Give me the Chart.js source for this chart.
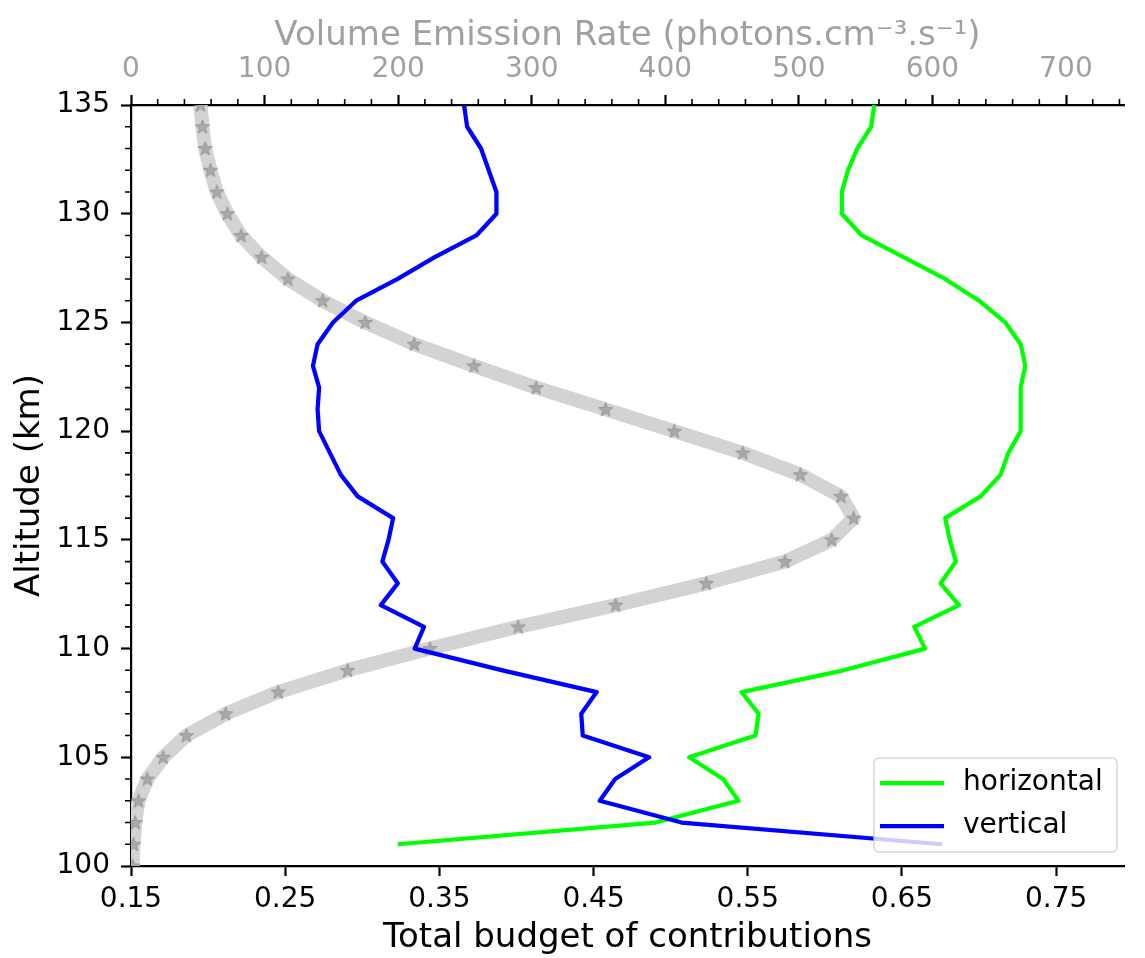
<!DOCTYPE html>
<html>
<head>
<meta charset="utf-8">
<script src="https://cdn.jsdelivr.net/npm/chart.js@4.4.0/dist/chart.umd.min.js"></script>
<style>
  html, body { margin: 0; padding: 0; background: #fff; }
  canvas { display: block; }
</style>
</head>
<body>
<canvas id="mychart" width="1145" height="958"></canvas>
<script>
// altitude (km) for the budget curves
const altitudes = [101, 102, 103, 104, 105, 106, 107, 108, 109, 110,
  111, 112, 113, 114, 115, 116, 117, 118, 119, 120,
  121, 122, 123, 124, 125, 126, 127, 128, 129, 130,
  131, 132, 133, 134, 135];
const horizontal = [0.323, 0.490, 0.544, 0.534, 0.512, 0.555, 0.557, 0.546, 0.612, 0.665,
  0.658, 0.687, 0.675, 0.685, 0.681, 0.678, 0.701, 0.714, 0.719, 0.727,
  0.727, 0.727, 0.730, 0.727, 0.717, 0.700, 0.678, 0.651, 0.624, 0.611,
  0.611, 0.615, 0.621, 0.630, 0.632];
const vertical = [0.676, 0.507, 0.454, 0.464, 0.486, 0.443, 0.442, 0.452, 0.391, 0.334,
  0.340, 0.312, 0.323, 0.313, 0.317, 0.320, 0.297, 0.286, 0.279, 0.272,
  0.271, 0.272, 0.268, 0.271, 0.281, 0.296, 0.323, 0.347, 0.374, 0.387,
  0.387, 0.382, 0.377, 0.368, 0.366];

// volume emission rate profile
const verAltitudes = [100, 101, 102, 103, 104, 105, 106, 107, 108, 109, 110,
  111, 112, 113, 114, 115, 116, 117, 118, 119, 120,
  121, 122, 123, 124, 125, 126, 127, 128, 129, 130,
  131, 132, 133, 134, 135];
const verValues = [1.2, 1.9, 3.2, 5.6, 12.2, 24.1, 41.5, 70.9, 110.1, 162.1, 223.8,
  289.8, 362.9, 430.7, 489.6, 524.6, 541.0, 531.5, 501.1, 458.0, 406.7,
  355.3, 303.3, 256.8, 212.0, 175.3, 143.5, 117.4, 97.8, 82.4, 72.1,
  64.3, 59.5, 55.5, 53.5, 52.0];

// tick labels
const budgetTicks = [0.15, 0.25, 0.35, 0.45, 0.55, 0.65, 0.75];
const verTicks = [0, 100, 200, 300, 400, 500, 600, 700];
const altTicks = [100, 105, 110, 115, 120, 125, 130, 135];

const FONT = 'DejaVu Sans';
const GREY_TEXT = '#a0a0a0';

// star marker
const star = document.createElement('canvas');
star.width = 17;
star.height = 17;
(function () {
  const c = star.getContext('2d');
  c.beginPath();
  for (let i = 0; i < 10; i++) {
    const r = i % 2 === 0 ? 7.5 : 3.1;
    const a = -Math.PI / 2 + i * Math.PI / 5;
    const px = 8.5 + r * Math.cos(a), py = 9 + r * Math.sin(a);
    if (i === 0) c.moveTo(px, py); else c.lineTo(px, py);
  }
  c.closePath();
  c.fillStyle = 'rgba(128,128,128,0.5)';
  c.fill();
  c.strokeStyle = 'rgba(128,128,128,0.6)';
  c.lineWidth = 1;
  c.stroke();
})();

// minor ticks (left and top axes)
const minorTicks = {
  id: 'minorTicks',
  afterDraw(chart) {
    const ctx = chart.ctx;
    const y = chart.scales.y, x2 = chart.scales.x2;
    ctx.save();
    ctx.strokeStyle = '#000';
    ctx.lineWidth = 1.6;
    ctx.beginPath();
    for (let v = y.min; v <= y.max; v++) {
      if (v % 5 === 0) continue;
      const py = y.getPixelForValue(v);
      ctx.moveTo(y.right - 6, py);
      ctx.lineTo(y.right, py);
    }
    for (let v = 20; v <= x2.max; v += 20) {
      if (v % 100 === 0) continue;
      const px = x2.getPixelForValue(v);
      ctx.moveTo(px, x2.bottom - 6);
      ctx.lineTo(px, x2.bottom);
    }
    ctx.stroke();
    ctx.restore();
  }
};

// legend box inside the plot (lower right)
const boxLegend = {
  id: 'boxLegend',
  afterDraw(chart) {
    const {ctx, chartArea} = chart;
    const w = 243, h = 94, r = 5;
    const left = chartArea.right - 7 - w;
    const top = chartArea.bottom - 14 - h;
    ctx.save();
    ctx.beginPath();
    ctx.moveTo(left + r, top);
    ctx.arcTo(left + w, top, left + w, top + h, r);
    ctx.arcTo(left + w, top + h, left, top + h, r);
    ctx.arcTo(left, top + h, left, top, r);
    ctx.arcTo(left, top, left + w, top, r);
    ctx.closePath();
    ctx.fillStyle = 'rgba(255,255,255,0.8)';
    ctx.fill();
    ctx.strokeStyle = 'rgba(204,204,204,0.8)';
    ctx.lineWidth = 1.5;
    ctx.stroke();

    const items = chart.data.datasets.filter(d => d.inLegend).reverse();
    items.forEach((d, i) => {
      const yy = top + 25 + i * 43;
      ctx.beginPath();
      ctx.moveTo(left + 6, yy);
      ctx.lineTo(left + 70, yy);
      ctx.strokeStyle = d.borderColor;
      ctx.lineWidth = d.borderWidth;
      ctx.stroke();
      ctx.fillStyle = '#000';
      ctx.font = '28px "' + FONT + '"';
      ctx.textBaseline = 'middle';
      ctx.textAlign = 'left';
      ctx.fillText(d.label, left + 89, yy);
    });
    ctx.restore();
  }
};

let ctx = document.getElementById('mychart');
let myChart = new Chart(ctx, {
  type: 'scatter',
  data: {
    datasets: [{
      label: 'vertical',
      inLegend: true,
      data: altitudes.map((a, i) => ({x: vertical[i], y: a})),
      borderColor: '#0000ff',
      borderWidth: 4.25,
      borderJoinStyle: 'round',
      pointRadius: 0,
      showLine: true,
      xAxisID: 'x',
      yAxisID: 'y',
    }, {
      label: 'horizontal',
      inLegend: true,
      data: altitudes.map((a, i) => ({x: horizontal[i], y: a})),
      borderColor: '#00ff00',
      borderWidth: 4.25,
      borderJoinStyle: 'round',
      pointRadius: 0,
      showLine: true,
      xAxisID: 'x',
      yAxisID: 'y',
    }, {
      label: 'VER',
      data: verAltitudes.map((a, i) => ({x: verValues[i], y: a})),
      borderColor: '#d3d3d3',
      borderWidth: 14,
      borderJoinStyle: 'round',
      pointStyle: star,
      pointRadius: 7,
      showLine: true,
      xAxisID: 'x2',
      yAxisID: 'y',
    }],
  },
  options: {
    responsive: false,
    animation: false,
    events: [],
    layout: { padding: 0 },
    plugins: {
      legend: { display: false },
      tooltip: { enabled: false },
    },
    scales: {
      x: {
        type: 'linear',
        position: 'bottom',
        min: 0.15,
        max: 0.794,
        afterBuildTicks: s => { s.ticks = budgetTicks.map(v => ({value: v})); },
        afterFit: s => { s.height = 92; },
        ticks: {
          callback: v => Number(v).toFixed(2),
          color: '#000',
          font: { family: FONT, size: 28 },
          padding: 7,
          maxRotation: 0,
          autoSkip: false,
        },
        grid: { drawOnChartArea: false, tickLength: 10, tickWidth: 2.2, tickColor: '#000' },
        border: { color: '#000', width: 2.2 },
        title: {
          display: true,
          text: 'Total budget of contributions',
          color: '#000',
          font: { family: FONT, size: 34, lineHeight: 1 },
          padding: { top: 0, bottom: 3 },
        },
      },
      x2: {
        type: 'linear',
        position: 'top',
        min: 0,
        max: 743.4,
        afterBuildTicks: s => { s.ticks = verTicks.map(v => ({value: v})); },
        afterFit: s => { s.height = 105; },
        ticks: {
          callback: v => String(v),
          color: GREY_TEXT,
          font: { family: FONT, size: 28 },
          padding: 8,
          maxRotation: 0,
          autoSkip: false,
        },
        grid: { drawOnChartArea: false, tickLength: 10, tickWidth: 2.2, tickColor: '#000' },
        border: { color: '#000', width: 2.2 },
        title: {
          display: true,
          text: 'Volume Emission Rate (photons.cm\u207B\u00B3.s\u207B\u00B9)',
          color: GREY_TEXT,
          font: { family: FONT, size: 34, lineHeight: 1 },
          padding: { top: 19, bottom: 0 },
        },
      },
      y: {
        type: 'linear',
        position: 'left',
        min: 100,
        max: 135,
        afterBuildTicks: s => { s.ticks = altTicks.map(v => ({value: v})); },
        afterFit: s => { s.width = 131; },
        ticks: {
          callback: v => String(v),
          color: '#000',
          font: { family: FONT, size: 28 },
          padding: 11,
          autoSkip: false,
        },
        grid: { drawOnChartArea: false, tickLength: 10, tickWidth: 2.2, tickColor: '#000' },
        border: { color: '#000', width: 2.2 },
        title: {
          display: true,
          text: 'Altitude (km)',
          color: '#000',
          font: { family: FONT, size: 34, lineHeight: 1 },
          padding: { top: 13, bottom: 0 },
        },
      },
    },
  },
  plugins: [minorTicks, boxLegend],
});
</script>
</body>
</html>
